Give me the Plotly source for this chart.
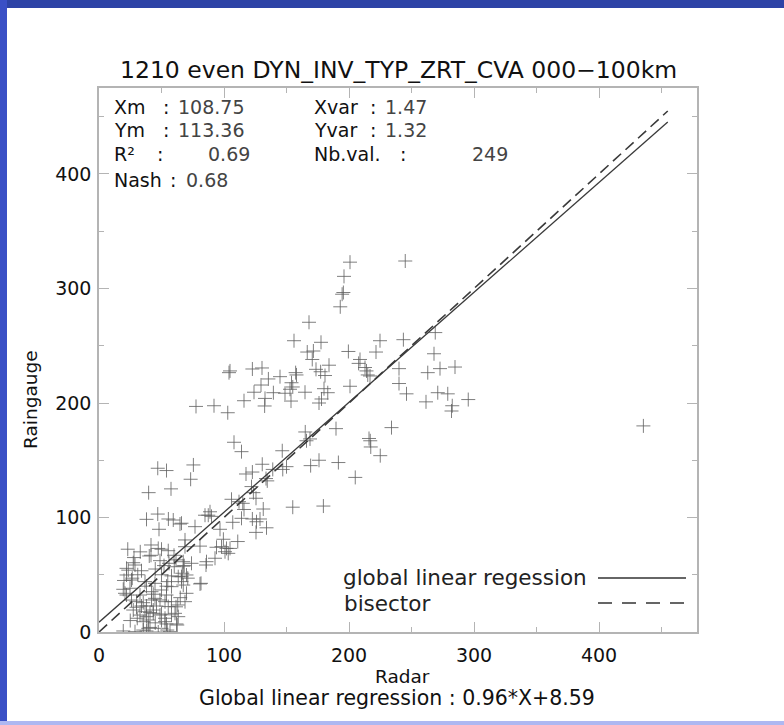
import plotly.graph_objects as go

# ---------------- data ----------------
radar = [
    200.8, 245.0, 196.0, 195.5, 194.5, 193.0, 168.0, 177.6, 224.8, 243.5,
    269.0, 166.6, 171.5, 170.6, 199.5, 221.6, 208.8, 207.7, 184.0, 173.6,
    177.3, 180.8, 212.8, 214.0, 215.0, 216.8, 240.0, 268.0, 263.0, 272.8,
    284.8, 164.8, 180.0, 183.0, 178.0, 176.0, 200.8, 240.0, 246.0, 261.6,
    271.0, 279.0, 282.6, 282.0, 295.4, 435.5, 165.0, 168.8, 166.0, 189.6,
    234.0, 216.0, 217.0, 217.4, 225.0, 169.3, 176.0, 191.5, 205.0, 156.0,
    104.8, 104.0, 122.7, 130.4, 135.5, 144.8, 157.3, 158.0, 129.6, 154.0,
    155.0, 124.0, 139.5, 148.8, 152.8, 132.8, 132.5, 116.0, 153.6, 77.6,
    92.0, 103.0, 108.0, 114.0, 146.6, 155.0, 179.5, 47.0, 54.0, 75.5,
    73.3, 39.7, 57.6, 130.6, 117.6, 122.7, 139.0, 147.0, 150.0, 133.6,
    134.6, 122.0, 123.5, 125.6, 106.0, 112.0, 116.0, 115.0, 131.4, 88.8,
    90.0, 87.4, 114.0, 122.7, 128.8, 126.0, 134.0, 125.6, 107.0, 96.8,
    76.8, 66.0, 99.5, 98.0, 102.0, 104.8, 100.8, 103.4, 94.0, 111.0,
    68.8, 80.8, 92.8, 85.6, 67.4, 67.4, 70.0, 66.0, 67.4, 80.8,
    38.0, 47.0, 55.5, 59.4, 48.0, 64.8, 84.8, 86.0, 23.0, 41.6,
    47.4, 50.0, 41.6, 68.8, 40.2, 55.4, 27.4, 28.8, 23.4, 22.0,
    26.0, 24.8, 34.0, 48.8, 56.0, 61.6, 60.2, 68.2, 66.6, 63.4,
    58.0, 55.0, 54.0, 44.8, 36.8, 50.0, 42.0, 58.0, 66.0, 22.0,
    26.0, 30.0, 34.0, 36.8, 27.4, 38.0, 30.6, 43.4, 46.0, 50.0,
    52.8, 55.4, 60.8, 63.4, 62.0, 54.0, 40.8, 28.8, 35.4, 47.4,
    50.0, 56.8, 81.6, 70.0, 68.8, 63.0, 54.0, 22.0, 26.6, 20.8,
    19.4, 30.0, 32.8, 35.4, 38.0, 40.8, 43.4, 39.4, 35.4, 48.8,
    52.8, 54.6, 19.4, 38.0, 39.4, 62.6, 48.8, 52.8, 43.4, 44.8,
    32.8, 58.0, 61.6, 71.0, 31.0, 28.0, 33.0, 20.0, 45.0, 50.0,
    38.0, 42.0, 25.0, 45.0, 58.0, 65.0, 74.0, 60.0, 52.0,
]
raingauge = [
    323.0, 324.0, 310.6, 296.5, 295.0, 284.0, 270.5, 253.0, 254.4, 255.3,
    261.5, 244.5, 245.4, 238.0, 245.0, 244.5, 238.0, 234.6, 233.0, 229.4,
    227.3, 224.0, 231.0, 228.0, 224.5, 223.6, 230.0, 243.0, 226.5, 230.0,
    231.4, 209.4, 212.5, 209.0, 203.5, 200.0, 214.6, 217.0, 208.0, 201.0,
    209.0, 208.0, 197.6, 193.0, 203.0, 180.0, 174.7, 168.6, 167.0, 177.6,
    178.5, 169.0, 167.0, 161.6, 154.0, 145.3, 150.0, 148.0, 135.0, 254.4,
    228.0, 226.5, 229.7, 230.6, 221.0, 223.0, 226.5, 224.5, 215.7, 217.7,
    214.0, 209.4, 209.0, 208.5, 212.0, 204.0, 197.4, 202.0, 201.7, 197.0,
    197.6, 191.5, 165.7, 157.5, 158.3, 109.0, 110.0, 143.0, 141.0, 145.9,
    133.4, 121.7, 125.0, 146.5, 138.0, 139.7, 142.0, 142.0, 144.4, 134.0,
    132.0, 127.0, 121.7, 116.8, 115.9, 113.8, 107.0, 112.4, 107.4, 105.0,
    101.0, 102.0, 99.3, 98.7, 98.7, 96.3, 91.0, 87.0, 95.8, 89.7,
    92.0, 95.0, 81.0, 74.5, 73.0, 73.0, 70.1, 68.7, 74.0, 79.0,
    80.4, 75.0, 64.4, 58.5, 61.4, 57.6, 49.8, 48.3, 41.0, 42.0,
    98.4, 103.0, 98.7, 97.8, 89.7, 94.3, 102.0, 61.4, 72.3, 76.0,
    73.0, 72.3, 67.0, 74.5, 66.4, 71.0, 60.5, 58.5, 54.0, 49.8,
    45.4, 38.2, 53.5, 62.3, 60.0, 63.0, 57.0, 57.9, 51.3, 48.3,
    49.0, 44.0, 40.0, 42.5, 44.0, 36.7, 35.2, 39.6, 44.0, 32.3,
    27.9, 26.5, 22.7, 17.7, 19.2, 13.4, 12.0, 19.2, 22.7, 15.7,
    12.0, 22.2, 16.3, 13.4, 7.0, 7.0, 4.0, 0.3, 1.7, 0.0,
    3.2, 0.3, 42.5, 33.8, 26.5, 23.6, 32.3, 55.6, 47.0, 33.8,
    37.3, 21.6, 14.8, 25.6, 22.7, 16.9, 16.4, 10.5, 9.0, 14.8,
    9.0, 1.7, 0.9, 0.9, 3.2, 6.1, 28.0, 26.5, 33.0, 29.4,
    32.3, 26.5, 22.0, 47.0, 50.0, 65.0, 70.0, 45.0, 55.0, 50.0,
    40.0, 28.0, 10.0, 8.0, 15.0, 30.0, 60.0, 67.0, 58.0,
]

reg_slope = 0.96
reg_intercept = 8.59
line_x = [0, 455]
bisector_x = [0, 455]

x_ticks = [0, 100, 200, 300, 400]
y_ticks = [0, 100, 200, 300, 400]

title_text = "1210 even DYN_INV_TYP_ZRT_CVA 000\u2212100km"
stats_rows = [
    ("Xm", "108.75", "Xvar", "1.47"),
    ("Ym", "113.36", "Yvar", "1.32"),
    ("R\u00b2", "0.69", "Nb.val.", "249"),
    ("Nash", "0.68", None, None),
]

# ---------------- geometry helpers ----------------
W, H = 784, 725
ML, MR, MT, MB = 99, 87, 88, 93
PW = W - ML - MR
PH = H - MT - MB


def px(x):
    return (x - ML) / PW


def py(y):
    return (H - MB - y) / PH


FONT = "DejaVu Sans"
AX_COL = "#b4b4b4"

fig = go.Figure()

fig.add_trace(go.Scatter(
    x=radar, y=raingauge, mode="markers",
    marker=dict(symbol="cross-thin", size=10,
                line=dict(width=1.0, color="rgba(95,95,95,0.8)")),
    showlegend=False, hoverinfo="skip",
))
fig.add_trace(go.Scatter(
    x=line_x, y=[reg_slope * v + reg_intercept for v in line_x],
    mode="lines", line=dict(color="#3a3a3a", width=1.3),
    showlegend=False, hoverinfo="skip",
))
fig.add_trace(go.Scatter(
    x=bisector_x, y=bisector_x,
    mode="lines", line=dict(color="#3a3a3a", width=1.6, dash="11px,6px"),
    showlegend=False, hoverinfo="skip",
))

axis_common = dict(
    showline=True, linecolor=AX_COL, linewidth=1.5, mirror="ticks",
    ticks="inside", ticklen=10, tickwidth=1.2, tickcolor=AX_COL,
    showgrid=False, zeroline=False,
    tickfont=dict(family=FONT, size=19, color="#111"),
    minor=dict(ticks="inside", ticklen=5, tickwidth=1.2, tickcolor=AX_COL, dtick=50, showgrid=False),
)

fig.update_xaxes(range=[0, 478.4], tickvals=x_ticks, ticktext=[str(v) for v in x_ticks],
                 ticklabelstandoff=5, **axis_common)
fig.update_yaxes(range=[0, 475.1], tickvals=y_ticks, ticktext=[str(v) for v in y_ticks],
                 ticklabelstandoff=2, **axis_common)

ann = []


def text(x, y, s, size=17, color="#111", xanchor="left", angle=0):
    ann.append(dict(x=px(x), y=py(y), xref="paper", yref="paper", text=s, showarrow=False,
                    xanchor=xanchor, yanchor="middle", textangle=angle,
                    font=dict(family=FONT, size=size, color=color)))


# title
text(398, 70, title_text, size=23.5, xanchor="center")

# stats block
SF = 19
row_y = [107, 130, 154, 180]
colon_l = [161, 161, 155, 168]
val_l = [176, 176, 206, 184]
for (lab, val, lab2, val2), yy, cx, vx in zip(stats_rows, row_y, colon_l, val_l):
    text(112, yy, lab, size=SF)
    text(cx, yy, ":", size=SF)
    text(vx, yy, val, size=SF, color="#444")
    if lab2:
        text(312, yy, lab2, size=SF)
        text(398 if lab2 == "Nb.val." else 368, yy, ":", size=SF)
        text(470 if lab2 == "Nb.val." else 383, yy, val2, size=SF, color="#444")

# axis titles
text(30, 400, "Raingauge", size=18.5, xanchor="center", angle=-90)
text(402, 676, "Radar", size=18.5, xanchor="center")
text(397, 698, "Global linear regression : %.2f*X+%.2f" % (reg_slope, reg_intercept),
     size=20.5, xanchor="center")

# legend
text(589, 577, "global linear regession", size=21.5, color="#222", xanchor="right")
text(342, 603, "bisector", size=21.5, color="#222")

shapes = [
    dict(type="line", xref="paper", yref="paper", x0=px(598), x1=px(686), y0=py(578), y1=py(578),
         line=dict(color="#333", width=1.3)),
    dict(type="line", xref="paper", yref="paper", x0=px(598), x1=px(686), y0=py(603), y1=py(603),
         line=dict(color="#333", width=1.6, dash="14px,10px")),
    # slide frame
    dict(type="rect", xref="paper", yref="paper", x0=px(0), x1=px(784), y0=py(0), y1=py(8),
         line=dict(width=0), fillcolor="#2d43a6", layer="above"),
    dict(type="rect", xref="paper", yref="paper", x0=px(0), x1=px(7), y0=py(0), y1=py(725),
         line=dict(width=0), fillcolor="#3a50c6", layer="above"),
    dict(type="rect", xref="paper", yref="paper", x0=px(0), x1=px(784), y0=py(721), y1=py(725),
         line=dict(width=0), fillcolor="#aeb8f2", layer="above"),
]

fig.update_layout(
    width=W, height=H,
    margin=dict(l=ML, r=MR, t=MT, b=MB, autoexpand=False),
    paper_bgcolor="white", plot_bgcolor="white",
    annotations=ann, shapes=shapes, showlegend=False,
)

fig.write_html("out.html", config={"displayModeBar": False},
               post_script="document.body.style.margin='0';")
